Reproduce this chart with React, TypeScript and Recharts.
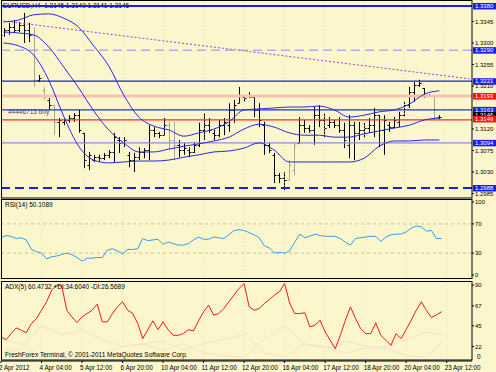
import React from 'react';
import { ComposedChart, Bar, Line, XAxis, YAxis, ReferenceLine } from 'recharts';

const BG = '#fcf6cc';
const FONT = 'Liberation Sans, Arial, sans-serif';
const SLOTS = 94; // 88 bars + chart shift

const timeLabels = ['2 Apr 2012', '4 Apr 04:00', '5 Apr 12:00', '6 Apr 20:00', '10 Apr 04:00', '11 Apr 12:00',
  '12 Apr 20:00', '16 Apr 04:00', '17 Apr 12:00', '18 Apr 20:00', '20 Apr 04:00', '23 Apr 12:00'];

// EURUSD H4 bars
const opens = [1.3317, 1.3327, 1.3333, 1.3327, 1.3338, 1.3327, 1.3317, 1.3223, 1.3202, 1.3181,
  1.3170, 1.3135, 1.3135, 1.3139, 1.3143, 1.3149, 1.3112, 1.3045, 1.3055, 1.3061,
  1.3059, 1.3066, 1.3072, 1.3097, 1.3091, 1.3066, 1.3055, 1.3061, 1.3072, 1.3076,
  1.3118, 1.3112, 1.3107, 1.3128, 1.3097, 1.3087, 1.3076, 1.3076, 1.3072, 1.3087,
  1.3118, 1.3128, 1.3112, 1.3107, 1.3128, 1.3128, 1.3160, 1.3174, 1.3187, 1.3189,
  1.3187, 1.3160, 1.3128, 1.3087, 1.3066, 1.3024, 1.3017, 1.3013, 1.3034, 1.3091,
  1.3128, 1.3122, 1.3118, 1.3149, 1.3139, 1.3128, 1.3135, 1.3128, 1.3118, 1.3087,
  1.3128, 1.3112, 1.3118, 1.3122, 1.3128, 1.3149, 1.3118, 1.3128, 1.3124, 1.3135,
  1.3149, 1.3170, 1.3197, 1.3212, 1.3206, 1.3191, 1.3189, 1.3145];
const highs = [1.3331, 1.3342, 1.3348, 1.3344, 1.3363, 1.3342, 1.3333, 1.3233, 1.3208, 1.3185,
  1.3170, 1.3143, 1.3143, 1.3149, 1.3153, 1.3160, 1.3112, 1.3072, 1.3066, 1.3066,
  1.3070, 1.3076, 1.3112, 1.3103, 1.3103, 1.3072, 1.3070, 1.3082, 1.3080, 1.3128,
  1.3124, 1.3114, 1.3143, 1.3135, 1.3135, 1.3097, 1.3091, 1.3082, 1.3093, 1.3133,
  1.3153, 1.3143, 1.3118, 1.3139, 1.3143, 1.3174, 1.3181, 1.3208, 1.3191, 1.3197,
  1.3187, 1.3174, 1.3135, 1.3091, 1.3070, 1.3028, 1.3030, 1.3055, 1.3091, 1.3145,
  1.3139, 1.3128, 1.3166, 1.3170, 1.3153, 1.3145, 1.3139, 1.3145, 1.3133, 1.3149,
  1.3135, 1.3135, 1.3133, 1.3143, 1.3164, 1.3149, 1.3149, 1.3135, 1.3145, 1.3156,
  1.3177, 1.3208, 1.3218, 1.3223, 1.3206, 1.3193, 1.3191, 1.3149];
const lows = [1.3313, 1.3317, 1.3321, 1.3323, 1.3300, 1.3302, 1.3208, 1.3218, 1.3181, 1.3160,
  1.3107, 1.3103, 1.3128, 1.3133, 1.3135, 1.3112, 1.3038, 1.3034, 1.3051, 1.3051,
  1.3055, 1.3059, 1.3051, 1.3070, 1.3082, 1.3040, 1.3030, 1.3055, 1.3059, 1.3055,
  1.3103, 1.3101, 1.3107, 1.3076, 1.3055, 1.3061, 1.3066, 1.3061, 1.3070, 1.3082,
  1.3097, 1.3112, 1.3097, 1.3103, 1.3107, 1.3114, 1.3133, 1.3174, 1.3177, 1.3185,
  1.3145, 1.3124, 1.3066, 1.3070, 1.3007, 1.3007, 1.2992, 1.3013, 1.3024, 1.3091,
  1.3112, 1.3112, 1.3087, 1.3124, 1.3103, 1.3122, 1.3122, 1.3112, 1.3080, 1.3059,
  1.3055, 1.3097, 1.3101, 1.3112, 1.3103, 1.3082, 1.3066, 1.3114, 1.3122, 1.3124,
  1.3145, 1.3164, 1.3177, 1.3208, 1.3185, 1.3187, 1.3139, 1.3141];
const closes = [1.3327, 1.3333, 1.3327, 1.3338, 1.3327, 1.3317, 1.3223, 1.3227, 1.3187, 1.3170,
  1.3135, 1.3139, 1.3139, 1.3143, 1.3149, 1.3118, 1.3055, 1.3066, 1.3061, 1.3059,
  1.3066, 1.3072, 1.3103, 1.3091, 1.3097, 1.3055, 1.3061, 1.3072, 1.3076, 1.3118,
  1.3112, 1.3107, 1.3128, 1.3097, 1.3087, 1.3076, 1.3080, 1.3072, 1.3087, 1.3118,
  1.3128, 1.3118, 1.3107, 1.3128, 1.3135, 1.3160, 1.3170, 1.3191, 1.3185, 1.3187,
  1.3160, 1.3139, 1.3087, 1.3076, 1.3024, 1.3017, 1.3013, 1.3045, 1.3087, 1.3128,
  1.3122, 1.3118, 1.3149, 1.3139, 1.3122, 1.3135, 1.3128, 1.3118, 1.3097, 1.3128,
  1.3112, 1.3118, 1.3122, 1.3128, 1.3149, 1.3118, 1.3139, 1.3124, 1.3139, 1.3149,
  1.3170, 1.3197, 1.3212, 1.3216, 1.3191, 1.3189, 1.3145, 1.3146];
const grayBars = [6, 8, 10, 33, 34, 57, 58, 86];

// Bollinger bands, sampled [bar, price]
const bbUpper = [[0, 1.3344], [3, 1.3348], [6, 1.3359], [9, 1.3361], [12, 1.3352], [15, 1.3333], [18, 1.3294],
  [21, 1.3252], [24, 1.3191], [27, 1.3145], [30, 1.3126], [33, 1.3118], [36, 1.3105], [39, 1.3112], [42, 1.3120],
  [45, 1.3135], [48, 1.3160], [51, 1.3162], [54, 1.3164], [57, 1.3166], [60, 1.3166], [63, 1.3168], [66, 1.3160],
  [69, 1.3145], [72, 1.3149], [75, 1.3156], [78, 1.3160], [81, 1.3172], [84, 1.3193], [87, 1.3200]];
const bbMiddle = [[0, 1.3323], [3, 1.3321], [6, 1.3317], [9, 1.3292], [12, 1.3250], [15, 1.3206], [18, 1.3158],
  [21, 1.3118], [24, 1.3091], [27, 1.3072], [30, 1.3072], [33, 1.3078], [36, 1.3084], [39, 1.3089], [42, 1.3095],
  [45, 1.3103], [48, 1.3120], [51, 1.3130], [54, 1.3124], [57, 1.3112], [60, 1.3107], [63, 1.3107], [66, 1.3103],
  [69, 1.3103], [72, 1.3110], [75, 1.3116], [78, 1.3122], [81, 1.3128], [84, 1.3139], [87, 1.3143]];
const bbLower = [[0, 1.3300], [3, 1.3294], [6, 1.3275], [9, 1.3223], [12, 1.3147], [15, 1.3084], [18, 1.3055],
  [21, 1.3049], [24, 1.3051], [27, 1.3053], [30, 1.3053], [33, 1.3055], [36, 1.3061], [39, 1.3066], [42, 1.3072],
  [45, 1.3074], [48, 1.3080], [51, 1.3091], [54, 1.3076], [57, 1.3051], [60, 1.3051], [63, 1.3051], [66, 1.3051],
  [69, 1.3051], [72, 1.3059], [75, 1.3084], [78, 1.3095], [81, 1.3095], [84, 1.3097], [87, 1.3097]];

const rsi = [51, 54, 53, 50, 51, 48, 35, 32, 30, 22, 25, 26, 28, 30, 28, 24, 19, 23, 23, 24,
  24, 34, 36, 33, 29, 35, 35, 36, 50, 47, 48, 49, 42, 45, 43, 41, 41, 43, 48, 52,
  49, 49, 52, 51, 50, 55, 61, 62, 61, 58, 55, 51, 40, 37, 30, 31, 30, 33, 45, 56,
  51, 53, 56, 54, 53, 53, 53, 50, 45, 41, 50, 51, 52, 53, 53, 46, 52, 55, 56, 56,
  59, 64, 67, 66, 60, 61, 50, 50.1];
const adx = [32.6, 29.6, 36.3, 42.6, 40, 37.4, 47.4, 53, 62.2, 71.5, 84.4, 90, 89, 62, 54.8, 48.5, 54.8, 58.5, 62.2, 68.9,
  49.3, 49.3, 58.5, 65.9, 71.5, 62.2, 58.5, 47.4, 30.8, 40.7, 50.4, 40.7, 49.3, 40.7, 34.4, 34.4, 36.3, 40.7, 39.3, 50.4,
  60.4, 67.8, 56.7, 58.5, 64.1, 71.5, 78.9, 86.3, 91.8, 66, 62.2, 64.1, 69.6, 74, 79, 82.6, 91.8, 70, 58.5, 58.5,
  59.3, 43.7, 45.6, 51.1, 38.2, 28.9, 19.6, 34.4, 51.1, 65.9, 53, 41.9, 36.3, 36.3, 48.1, 34.4, 28.9, 23.3, 36.3, 30.8,
  40.7, 51.1, 62.2, 71.5, 62, 54.1, 57, 60.5];
const plusDi = [[0, 30], [4, 25], [8, 12], [12, 10], [16, 8], [20, 15], [24, 22], [28, 25], [32, 28], [36, 18],
  [40, 25], [44, 30], [48, 35], [52, 15], [56, 10], [60, 25], [64, 22], [68, 15], [72, 20], [76, 22], [80, 30],
  [84, 38], [87, 34.6]];
const minusDi = [[0, 15], [4, 20], [8, 45], [12, 35], [16, 40], [20, 30], [24, 22], [28, 25], [32, 18], [36, 25],
  [40, 15], [44, 12], [48, 10], [52, 30], [56, 45], [60, 25], [64, 20], [68, 28], [72, 22], [76, 20], [80, 12],
  [84, 10], [87, 26.6]];

const priceTicks = [1.2985, 1.3030, 1.3075, 1.3120, 1.3210, 1.3255, 1.3300, 1.3345];

const pick = (list: number[][], i: number) => {
  const hit = list.find((p) => p[0] === i);
  return hit ? hit[1] : null;
};

const rows = Array.from({ length: SLOTS }, (_, i) => {
  const has = i < opens.length;
  return {
    i,
    o: has ? opens[i] : null,
    h: has ? highs[i] : null,
    l: has ? lows[i] : null,
    c: has ? closes[i] : null,
    range: has ? [lows[i], highs[i]] : null,
    gray: grayBars.includes(i),
    bbU: pick(bbUpper, i),
    bbM: pick(bbMiddle, i),
    bbL: pick(bbLower, i),
    rsi: has ? rsi[i] : null,
    adx: has ? adx[i] : null,
    pdi: pick(plusDi, i),
    mdi: pick(minusDi, i),
  };
});

const OhlcBar = (props: any) => {
  const { x, y, width, height, payload } = props;
  if (!payload || payload.o == null) return null;
  const cx = Math.round(x + width / 2) + 0.5;
  const k = height / (payload.h - payload.l || 1);
  const yo = Math.round(y + (payload.h - payload.o) * k) + 0.5;
  const yc = Math.round(y + (payload.h - payload.c) * k) + 0.5;
  const color = payload.gray ? '#a8a898' : '#000000';
  return (
    <g stroke={color} strokeWidth={1}>
      <line x1={cx} x2={cx} y1={y} y2={y + height} />
      <line x1={cx - 2} x2={cx} y1={yo} y2={yo} />
      <line x1={cx} x2={cx + 2} y1={yc} y2={yc} />
    </g>
  );
};

const PriceBox = (props: any) => {
  const { viewBox, text, bg, dy = 0 } = props;
  if (!viewBox) return null;
  const cy = viewBox.y + dy;
  const bx = viewBox.x + viewBox.width + 1;
  return (
    <g>
      <rect x={bx} y={cy - 3} width={23} height={6.5} fill={bg} />
      <text x={bx + 2} y={cy + 2.2} fontSize={6} fontFamily={FONT} fill="#ffffff">{text}</text>
    </g>
  );
};

// horizontal objects on the price chart: where drawn, box text, style
const hLines = [
  { y: 1.33775, text: '1.3380', stroke: '#1c1cf0', width: 2, dash: undefined, box: '#1c1cf0' },
  { y: 1.3285, text: '1.3290', stroke: '#8a8ae8', width: 1, dash: '9 5', box: '#1c1cf0' },
  { y: 1.3220, text: '1.3221', stroke: '#1c1cd8', width: 1.3, dash: undefined, box: '#1c1cf0' },
  { y: 1.3189, text: '1.3193', stroke: '#f3c2ac', width: 3, dash: undefined, box: '#ff1010' },
  { y: 1.3160, text: '1.3163', stroke: '#2828e8', width: 1.2, dash: undefined, box: '#1c1cf0' },
  { y: 1.3091, text: '1.3094', stroke: '#8c8cdc', width: 1.2, dash: undefined, box: '#1c1cf0' },
  { y: 1.29965, text: '1.2988', stroke: '#1c1cf0', width: 2, dash: '9 5', box: '#1c1cf0' },
];

const gridIdx = [0, 8, 16, 24, 32, 40, 48, 56, 64, 72, 80, 88];

const axisTick = { fontSize: 6, fill: '#000000', fontFamily: FONT };

const DateTick = (props: any) => {
  const { x, y, payload } = props;
  const label = timeLabels[payload.value / 8];
  if (!label) return null;
  return (
    <text x={x - 2} y={y + 5} fontSize={6.3} fontFamily={FONT} fill="#000000" textAnchor="start">{label}</text>
  );
};

const textStyle = (left: number, top: number): React.CSSProperties => ({
  position: 'absolute', left, top, fontSize: 6.5, fontFamily: FONT, color: '#000', whiteSpace: 'nowrap', lineHeight: '8px',
});

export default function App() {
  return (
    <div style={{ position: 'absolute', left: 0, top: 0, width: 496, height: 372, background: BG, overflow: 'hidden' }}>
      <div style={textStyle(3, 2)}>EURUSD,H4&nbsp; 1.3145 1.3149 1.3141 1.3146</div>
      <div style={{ ...textStyle(8, 108), color: '#404070' }}>#4446715 buy</div>

      <div style={{ position: 'absolute', left: 0, top: 0 }}>
        <ComposedChart width={496} height={200} data={rows} margin={{ top: 2, right: 0, bottom: 2, left: 1 }}>
          <XAxis dataKey="i" hide />
          <YAxis orientation="right" width={24} domain={[1.29756, 1.33858]} ticks={priceTicks} allowDataOverflow
            tick={axisTick} tickSize={2} tickMargin={1} tickFormatter={(v: number) => v.toFixed(4)}
            axisLine={false} tickLine={{ stroke: '#000' }} />
          {gridIdx.map((g) => (
            <ReferenceLine key={'g' + g} x={g} stroke="#e8e0b0" strokeDasharray="1 2" />
          ))}
          <ReferenceLine segment={[{ x: 0, y: 1.3346 }, { x: 93, y: 1.3225 }]} stroke="#a040d8" strokeDasharray="2 2" ifOverflow="visible" />
          {hLines.map((ln) => (
            <ReferenceLine key={ln.text} y={ln.y} stroke={ln.stroke} strokeWidth={ln.width} strokeDasharray={ln.dash}
              label={<PriceBox text={ln.text} bg={ln.box} />} />
          ))}
          <ReferenceLine y={1.3146} stroke="none" label={<PriceBox text="1.3146" bg="#000000" dy={-1.5} />} />
          <ReferenceLine y={1.3139} stroke="#f03030" strokeWidth={1.2} label={<PriceBox text="1.3149" bg="#ff1010" dy={-1} />} />
          <Line dataKey="bbU" stroke="#2626f2" dot={false} connectNulls type="monotone" isAnimationActive={false} />
          <Line dataKey="bbM" stroke="#2626f2" dot={false} connectNulls type="monotone" isAnimationActive={false} />
          <Line dataKey="bbL" stroke="#2626f2" dot={false} connectNulls type="monotone" isAnimationActive={false} />
          <Bar dataKey="range" shape={<OhlcBar />} isAnimationActive={false} />
        </ComposedChart>
      </div>

      <div style={textStyle(5, 201)}>RSI(14) 50.1089</div>
      <div style={{ position: 'absolute', left: 0, top: 199 }}>
        <ComposedChart width={496} height={80} data={rows} margin={{ top: 0, right: 0, bottom: 0, left: 1 }}>
          <XAxis dataKey="i" hide />
          <YAxis orientation="right" width={24} domain={[-5.5, 104.1]} ticks={[0, 30, 70, 100]} allowDataOverflow
            tick={axisTick} tickSize={2} tickMargin={1} axisLine={false} tickLine={{ stroke: '#000' }} />
          {gridIdx.map((g) => (
            <ReferenceLine key={'g' + g} x={g} stroke="#e8e0b0" strokeDasharray="1 2" />
          ))}
          <ReferenceLine y={70} stroke="#c8c0a0" strokeDasharray="3 3" />
          <ReferenceLine y={30} stroke="#c8c0a0" strokeDasharray="3 3" />
          <Line dataKey="rsi" stroke="#3a9cf0" dot={false} type="linear" isAnimationActive={false} />
        </ComposedChart>
      </div>

      <div style={{ position: 'absolute', left: 0, top: 281 }}>
        <ComposedChart width={496} height={91} data={rows} margin={{ top: 0, right: 0, bottom: 0, left: 1 }}>
          <XAxis dataKey="i" interval={7} height={11} tick={<DateTick />} tickSize={2} axisLine={{ stroke: '#000' }}
            tickLine={{ stroke: '#000' }} />
          <YAxis orientation="right" width={24} domain={[6, 94.5]} ticks={[22, 45, 67, 90]} allowDataOverflow
            tick={axisTick} tickSize={2} tickMargin={1} axisLine={false} tickLine={{ stroke: '#000' }} />
          {gridIdx.map((g) => (
            <ReferenceLine key={'g' + g} x={g} stroke="#e8e0b0" strokeDasharray="1 2" />
          ))}
          <Line dataKey="pdi" stroke="#f6e0cc" dot={false} connectNulls type="linear" isAnimationActive={false} />
          <Line dataKey="mdi" stroke="#f6e0cc" dot={false} connectNulls type="linear" isAnimationActive={false} />
          <Line dataKey="adx" stroke="#f01818" dot={false} type="linear" isAnimationActive={false} />
        </ComposedChart>
      </div>
      <div style={textStyle(5, 283)}>ADX(5) 60.4732 +DI:34.6040 -DI:26.5689</div>
      <div style={textStyle(5, 351)}>FreshForex Terminal, © 2001-2011 MetaQuotes Software Corp.</div>
      <div style={textStyle(477, 353)}>0</div>

      <svg width={496} height={372} style={{ position: 'absolute', left: 0, top: 0, pointerEvents: 'none' }}>
        <g stroke="#000" strokeWidth={1} fill="none">
          <rect x={1.5} y={0.5} width={470.5} height={197.5} />
          <rect x={1.5} y={199.5} width={470.5} height={79} />
          <rect x={1.5} y={281.5} width={470.5} height={78.5} />
        </g>
      </svg>
    </div>
  );
}
